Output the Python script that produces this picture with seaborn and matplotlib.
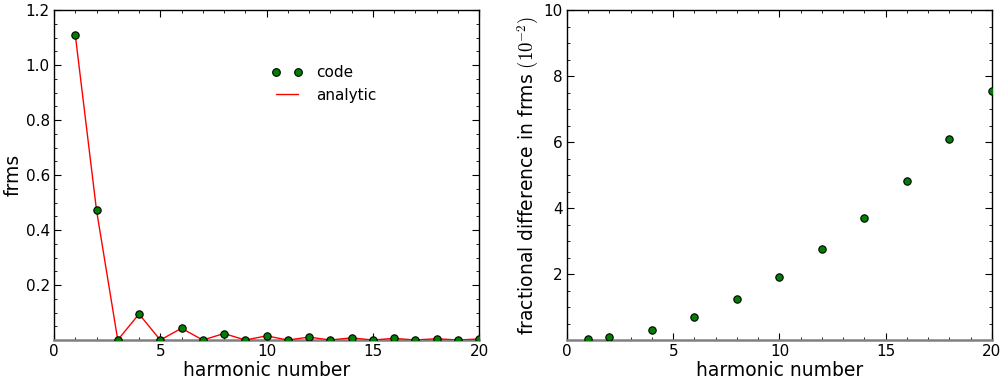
import matplotlib
matplotlib.use("Agg")
import matplotlib.pyplot as plt
from matplotlib.lines import Line2D
from matplotlib.ticker import MultipleLocator
import pandas as pd
import seaborn as sns

# Harmonic spectrum: numerical (code) vs analytic rms amplitude
harmonics = list(range(1, 21))
frms_code = [1.110, 0.472, 0.0, 0.0945, 0.0, 0.0425, 0.0, 0.0235, 0.0, 0.0150,
             0.0, 0.0105, 0.0, 0.0078, 0.0, 0.0060, 0.0, 0.0047, 0.0, 0.0038]
frms_analytic = [1.110, 0.472, 0.0, 0.0945, 0.0, 0.0425, 0.0, 0.0235, 0.0, 0.0150,
                 0.0, 0.0105, 0.0, 0.0078, 0.0, 0.0060, 0.0, 0.0047, 0.0, 0.0038]

# Fractional difference between code and analytic values (units of 1e-2)
diff_harmonics = [1, 2, 4, 6, 8, 10, 12, 14, 16, 18, 20]
frac_diff = [0.03, 0.09, 0.30, 0.70, 1.24, 1.91, 2.76, 3.71, 4.83, 6.09, 7.55]

sns.set_style("ticks")
plt.rcParams.update({
    "font.family": ["DejaVu Sans"],
    "mathtext.fontset": "cm",
    "text.color": "black",
    "axes.labelcolor": "black",
    "xtick.direction": "in",
    "ytick.direction": "in",
    "xtick.top": True,
    "ytick.right": True,
    "xtick.major.size": 5,
    "ytick.major.size": 5,
    "xtick.minor.size": 2.5,
    "ytick.minor.size": 2.5,
    "xtick.labelsize": 11,
    "ytick.labelsize": 11,
    "axes.labelsize": 13.5,
    "axes.edgecolor": "black",
    "axes.linewidth": 1.0,
    "xtick.color": "black",
    "ytick.color": "black",
})

fig = plt.figure(figsize=(10.04, 3.81), dpi=100)
ax1 = fig.add_axes([0.0538, 0.1076, 0.4233, 0.8661])
ax2 = fig.add_axes([0.5647, 0.1076, 0.4233, 0.8661])

df_spec = pd.DataFrame({"n": harmonics, "code": frms_code, "analytic": frms_analytic})
df_diff = pd.DataFrame({"n": diff_harmonics, "diff": frac_diff})

marker_kw = dict(color="green", edgecolor="black", linewidth=0.8, s=28, zorder=6, clip_on=True)

# Left panel: spectrum
sns.lineplot(data=df_spec, x="n", y="analytic", ax=ax1, color="red", lw=1.0, zorder=5)
sns.scatterplot(data=df_spec, x="n", y="code", ax=ax1, **marker_kw)
ax1.set_xlim(0, 20)
ax1.set_ylim(0, 1.2)
ax1.set_yticks([0.2, 0.4, 0.6, 0.8, 1.0, 1.2])
ax1.set_xticks([0, 5, 10, 15, 20])
ax1.xaxis.set_minor_locator(MultipleLocator(1))
ax1.yaxis.set_minor_locator(MultipleLocator(0.05))
ax1.set_xlabel("harmonic number", labelpad=1)
ax1.set_ylabel("frms", labelpad=2)

handles = [
    Line2D([], [], ls="none", marker="o", markerfacecolor="green",
           markeredgecolor="black", markersize=5.5, markeredgewidth=0.8),
    Line2D([], [], color="red", lw=1.0),
]
ax1.legend(handles, ["code", "analytic"], numpoints=2, frameon=False,
           loc="upper left", bbox_to_anchor=(0.48, 0.875), fontsize=11,
           handlelength=2.0, handletextpad=0.9, labelspacing=0.5)

# Right panel: fractional difference
sns.scatterplot(data=df_diff, x="n", y="diff", ax=ax2, **marker_kw)
ax2.set_xlim(0, 20)
ax2.set_ylim(0, 10)
ax2.set_yticks([2, 4, 6, 8, 10])
ax2.set_xticks([0, 5, 10, 15, 20])
ax2.xaxis.set_minor_locator(MultipleLocator(1))
ax2.yaxis.set_minor_locator(MultipleLocator(0.5))
ax2.set_xlabel("harmonic number", labelpad=1)
ax2.set_ylabel(r"fractional difference in frms $(10^{-2})$", labelpad=2)

for ax in (ax1, ax2):
    for s in ax.spines.values():
        s.set_visible(True)
    # zero baseline drawn in grey over the bottom frame
    ax.spines["bottom"].set_color("gray")
    ax.spines["bottom"].set_linewidth(1.8)
    ax.spines["bottom"].set_zorder(4)
    ax.tick_params(which="both", top=True, right=True, direction="in",
                   color="black", labelcolor="black")
    ax.tick_params(axis="both", which="major", pad=3)

fig.savefig("out.png", dpi=100)
